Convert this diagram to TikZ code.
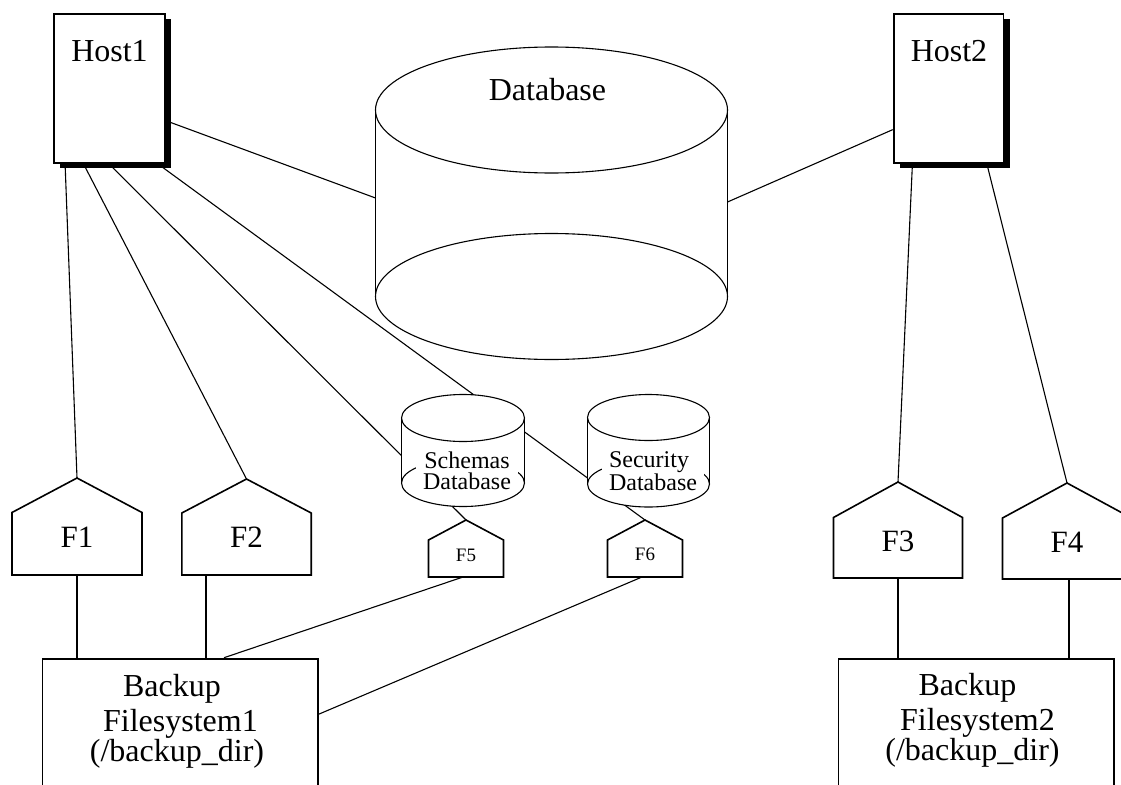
\documentclass[tikz,border=0pt]{standalone}
\usepackage{fontspec}
\setmainfont{Liberation Serif}
\usetikzlibrary{shadows,calc}
\pgfdeclarelayer{back}
\pgfsetlayers{back,main}

% cylinder: centre x, radius x, top y, bottom y, radius y
\newcommand\drum[5]{%
  \fill[white] (#1,#3) ellipse[x radius=#2, y radius=#5];
  \fill[white] (#1,#4) ellipse[x radius=#2, y radius=#5];
  \fill[white] (#1-#2,#3) rectangle (#1+#2,#4);
  \draw[rimline] (#1,#3) ellipse[x radius=#2, y radius=#5];
  \draw[rimline] (#1,#4) ellipse[x radius=#2, y radius=#5];
  \draw[sideline] (#1-#2,#3) -- (#1-#2,#4) (#1+#2,#3) -- (#1+#2,#4);
}

% file set: name, centre x, half width, apex y, shoulder y, bottom y, baseline y, label style, label
\newcommand\fileset[9]{%
  \filldraw[fsline] (#2-#3,#6) -- (#2-#3,#5) -- (#2,#4) -- (#2+#3,#5) -- (#2+#3,#6) -- cycle;
  \coordinate (#1-top) at (#2,#4);
  \coordinate (#1-bot) at (#2,#6);
  \node[#8, anchor=base] (#1) at (#2,#7) {#9};
}

\begin{document}
\begin{tikzpicture}[x=1pt, y=-1pt,
  conn/.style={line width=1.1pt},
  rimline/.style={line width=1.1pt},
  sideline/.style={line width=1.8pt},
  fsline/.style={draw, fill=white, line width=1.6pt},
  hostbox/.style={draw, fill=white, line width=1.8pt, inner sep=0pt,
    drop shadow={shadow xshift=6.2pt, shadow yshift=-5.2pt, fill=black, opacity=1}},
  backupbox/.style={draw, fill=white, line width=1.8pt, inner sep=0pt},
  bigtext/.style={font=\fontsize{32}{34}\selectfont, inner sep=0pt},
  ftext/.style={font=\fontsize{31}{33}\selectfont, inner sep=0pt},
  smalltext/.style={font=\fontsize{19}{21}\selectfont, inner sep=0pt},
  dbtext/.style={font=\fontsize{24}{21}\selectfont, fill=white,
    inner xsep=7.5pt, inner ysep=2pt, anchor=north},
]
\useasboundingbox (0,0) rectangle (1121,784);

% hosts
\node[hostbox, minimum width=110.6pt, minimum height=149.5pt] (Host1) at (109.5,88.4) {};
\node[bigtext, anchor=base] (Host1-label) at (109.5,61) {Host1};
\node[hostbox, minimum width=109.8pt, minimum height=149.5pt] (Host2) at (948.5,88.4) {};
\node[bigtext, anchor=base] (Host2-label) at (949,61) {Host2};

% main database
\drum{551.5}{176}{110}{296.5}{63}
\node[bigtext, anchor=base] (db) at (547.5,100.7) {Database};
\coordinate (db-l) at (375.5,198);
\coordinate (db-r) at (727.5,202);

% schema and security databases
\drum{463}{61.5}{418}{483}{23.5}
\node[dbtext, align=center] (schemas) at (467,449.6) {Schemas\\Database};
\drum{648.5}{61}{417.5}{484}{23}
\node[dbtext, align=left] (security) at (653,449.9) {Security\\Database};

% file sets
\fileset{F1}{77}{65}{478}{512.5}{575}{547}{ftext}{F1}
\fileset{F2}{246.5}{64.7}{479}{513}{575}{547}{ftext}{F2}
\fileset{F3}{898}{64.5}{482}{517.5}{578}{551}{ftext}{F3}
\fileset{F4}{1067}{64.5}{483}{518}{579}{552}{ftext}{F4}
\fileset{F5}{466}{37.5}{520}{540}{577}{561}{smalltext}{F5}
\fileset{F6}{645}{37.5}{520}{540}{577}{560}{smalltext}{F6}

% backup filesystems
\node[backupbox, minimum width=275.5pt, minimum height=142pt] (bk1) at (180.3,729.6) {};
\node[bigtext, anchor=base] (bk1-a) at (172,696) {Backup};
\node[bigtext, anchor=base] (bk1-b) at (180.5,731.5) {Filesystem1};
\node[bigtext, anchor=base] (bk1-c) at (177,761) {(/backup\_dir)};
\node[backupbox, minimum width=275.5pt, minimum height=142pt] (bk2) at (976.3,729.6) {};
\node[bigtext, anchor=base] (bk2-a) at (967.5,695) {Backup};
\node[bigtext, anchor=base] (bk2-b) at (977.5,730.5) {Filesystem2};
\node[bigtext, anchor=base] (bk2-c) at (972.5,760) {(/backup\_dir)};

% connector end points off the shape centres
\coordinate (F2-out) at ($(F2-bot)+(-40.5,0)$);
\coordinate (F4-out) at ($(F4-bot)+(2,0)$);
\coordinate (F5-out) at ($(F5-bot)+(-3,0)$);
\coordinate (F6-out) at ($(F6-bot)+(-3,0)$);
\coordinate (bk1-in5) at ($(bk1.north west)+(182.4,0)$);
\coordinate (bk1-in6) at ($(bk1.north east)+(0,56.4)$);

% connectors
\begin{pgfonlayer}{back}
  \draw[conn] ($(Host1.south west)+(11.8,0)$) -- (F1-top);
  \draw[conn] ($(Host1.south west)+(30.3,0)$) -- (F2-top);
  \draw[conn] ($(Host1.south west)+(55.8,0)$) -- (F5-top);
  \draw[conn] ($(Host1.south west)+(104.8,0)$) -- (F6-top);
  \draw[conn] ($(Host1.north east)+(0,107.9)$) -- (db-l);
  \draw[conn] ($(Host2.north west)+(0,116.9)$) -- (db-r);
  \draw[conn] ($(Host2.south west)+(19.7,0)$) -- (F3-top);
  \draw[conn] ($(Host2.south west)+(94.2,0)$) -- (F4-top);
  \draw[conn] (F1-bot) -- (F1-bot |- bk1.north);
  \draw[conn] (F2-out) -- (F2-out |- bk1.north);
  \draw[conn] (F3-bot) -- (F3-bot |- bk2.north);
  \draw[conn] (F4-out) -- (F4-out |- bk2.north);
  \draw[conn] (F5-out) -- (bk1-in5);
  \draw[conn] (F6-out) -- (bk1-in6);
\end{pgfonlayer}
\end{tikzpicture}
\end{document}
